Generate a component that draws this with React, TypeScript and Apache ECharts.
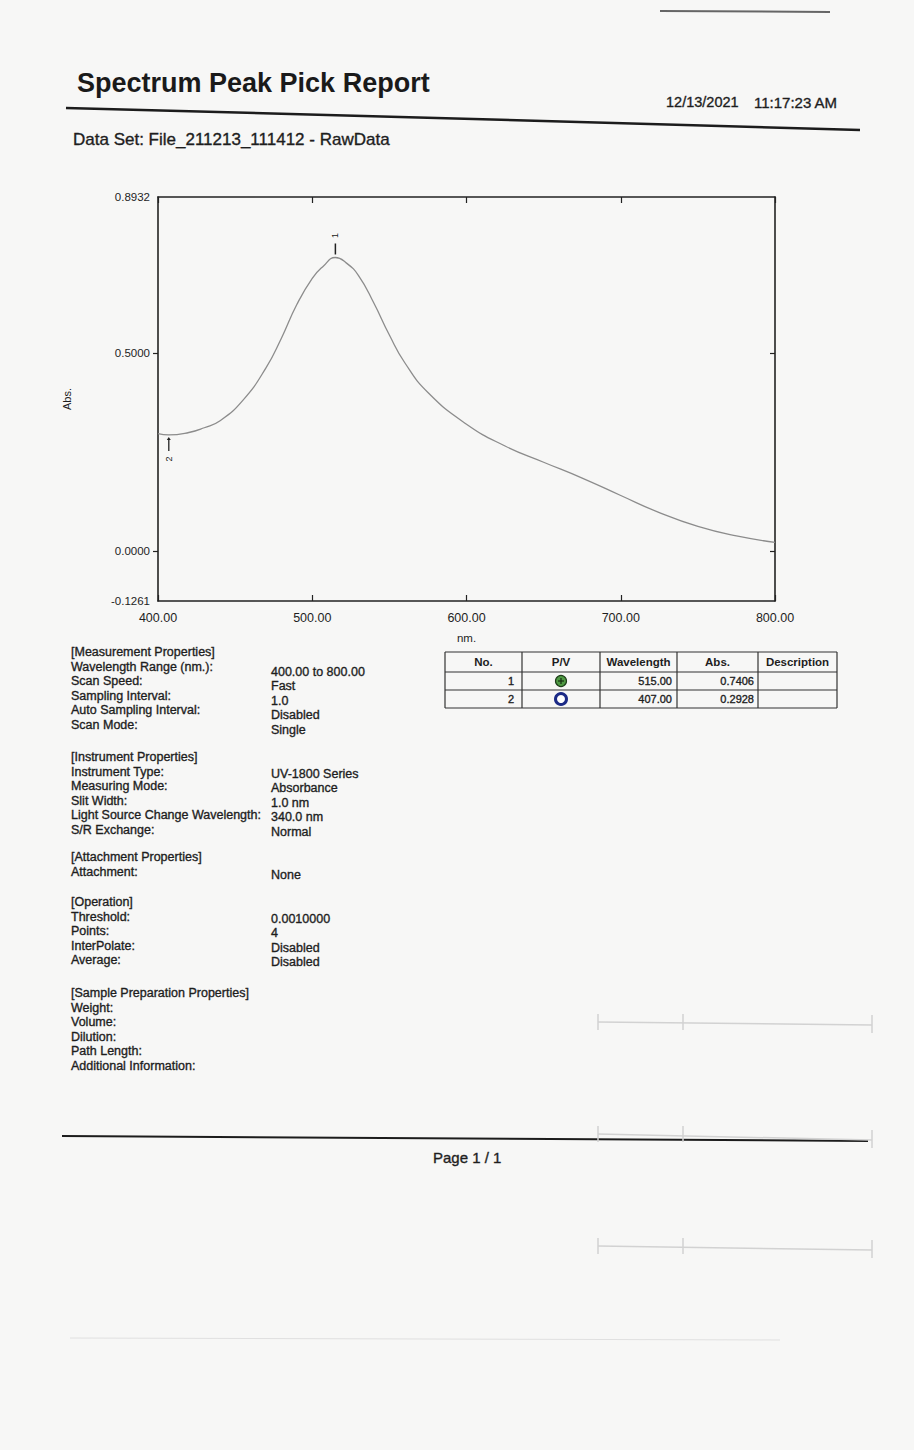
import React, { useEffect, useRef } from "react";
import * as echarts from "echarts";

// ---------- data ----------
const wavelengths = [400, 407, 420, 430, 440, 455, 470, 480, 490, 500, 507, 515, 522, 530, 540, 550, 560, 575, 600, 625, 650, 675, 700, 725, 750, 775, 800];
const absorbance = [0.296, 0.2928, 0.299, 0.311, 0.328, 0.38, 0.462, 0.537, 0.622, 0.688, 0.718, 0.7406, 0.727, 0.695, 0.625, 0.545, 0.475, 0.4, 0.32, 0.265, 0.224, 0.184, 0.14, 0.097, 0.062, 0.038, 0.022];

const xTicks = [400, 500, 600, 700, 800];
const yLabelValues = [-0.1261, 0, 0.5, 0.8932];
const yTickValues = [0, 0.5];

const peakNo = [1, 2];
const peakType = ["P", "V"];
const peakWavelength = [515.0, 407.0];
const peakAbs = [0.7406, 0.2928];

const measurementLabels = ["Wavelength Range (nm.):", "Scan Speed:", "Sampling Interval:", "Auto Sampling Interval:", "Scan Mode:"];
const measurementValues = ["400.00 to 800.00", "Fast", "1.0", "Disabled", "Single"];
const instrumentLabels = ["Instrument Type:", "Measuring Mode:", "Slit Width:", "Light Source Change Wavelength:", "S/R Exchange:"];
const instrumentValues = ["UV-1800 Series", "Absorbance", "1.0 nm", "340.0 nm", "Normal"];
const attachmentLabels = ["Attachment:"];
const attachmentValues = ["None"];
const operationLabels = ["Threshold:", "Points:", "InterPolate:", "Average:"];
const operationValues = ["0.0010000", "4", "Disabled", "Disabled"];
const sampleLabels = ["Weight:", "Volume:", "Dilution:", "Path Length:", "Additional Information:"];

const tableHeaders = ["No.", "P/V", "Wavelength", "Abs.", "Description"];

const FONT = "'Liberation Sans', Arial, sans-serif";
const INK = "#1e1e1e";

function txt(x: number, y: number, text: string, size: number, extra: any = {}) {
  return {
    type: "text",
    x,
    y,
    silent: true,
    style: {
      text,
      fontSize: size,
      fontFamily: FONT,
      fill: INK,
      textVerticalAlign: "middle",
      ...extra,
    },
  };
}

const bodyStyle = { stroke: "#1e1e1e", lineWidth: 0.35 };

function section(header: string, labels: string[], values: string[], y0: number, valueOffset: number) {
  const els: any[] = [];
  const step = 14.5;
  els.push(txt(71, y0, header, 12.5, bodyStyle));
  labels.forEach((l, i) => {
    els.push(txt(71, y0 + step * (i + 1), l, 12.5, bodyStyle));
  });
  values.forEach((v, i) => {
    els.push(txt(271, y0 + step * (i + 1) + valueOffset, v, 12.5, bodyStyle));
  });
  return els;
}

function buildTable() {
  const els: any[] = [];
  const colX = [445, 522, 600, 677, 758, 837];
  const rowY = [652, 672, 690, 708];
  const stroke = { stroke: "#333", lineWidth: 1.2 };
  rowY.forEach((y) => {
    els.push({ type: "line", silent: true, shape: { x1: colX[0], y1: y, x2: colX[5], y2: y }, style: stroke });
  });
  colX.forEach((x) => {
    els.push({ type: "line", silent: true, shape: { x1: x, y1: rowY[0], x2: x, y2: rowY[3] }, style: stroke });
  });
  tableHeaders.forEach((h, i) => {
    els.push(txt((colX[i] + colX[i + 1]) / 2, (rowY[0] + rowY[1]) / 2, h, 11.5, { fontWeight: "bold", textAlign: "center" }));
  });
  peakNo.forEach((n, r) => {
    const cy = (rowY[r + 1] + rowY[r + 2]) / 2;
    els.push(txt(colX[1] - 8, cy, String(n), 11, { textAlign: "right", ...bodyStyle }));
    const cx = (colX[1] + colX[2]) / 2;
    if (peakType[r] === "P") {
      els.push({ type: "circle", silent: true, shape: { cx, cy, r: 5.5 }, style: { fill: "#4f9a43", stroke: "#1f3f1a", lineWidth: 1.2 } });
      els.push({ type: "line", silent: true, shape: { x1: cx - 3, y1: cy, x2: cx + 3, y2: cy }, style: { stroke: "#163012", lineWidth: 1.2 } });
      els.push({ type: "line", silent: true, shape: { x1: cx, y1: cy - 3, x2: cx, y2: cy + 3 }, style: { stroke: "#163012", lineWidth: 1.2 } });
    } else {
      els.push({ type: "circle", silent: true, shape: { cx, cy, r: 5.5 }, style: { fill: "#ffffff", stroke: "#1b2a86", lineWidth: 3 } });
    }
    els.push(txt(colX[3] - 5, cy, peakWavelength[r].toFixed(2), 11, { textAlign: "right", ...bodyStyle }));
    els.push(txt(colX[4] - 4, cy, peakAbs[r].toFixed(4), 11, { textAlign: "right", ...bodyStyle }));
  });
  return els;
}

function buildGhosts() {
  const faint = { stroke: "#d2d2d2", lineWidth: 1.5 };
  const els: any[] = [];
  [[1022, 1025], [1134, 1140], [1246, 1250]].forEach(([a, b]) => {
    els.push({ type: "line", silent: true, shape: { x1: 598, y1: a, x2: 872, y2: b }, style: faint });
    els.push({ type: "line", silent: true, shape: { x1: 872, y1: b - 10, x2: 872, y2: b + 8 }, style: faint });
    els.push({ type: "line", silent: true, shape: { x1: 598, y1: a - 8, x2: 598, y2: a + 8 }, style: faint });
    els.push({ type: "line", silent: true, shape: { x1: 683, y1: a - 8, x2: 683, y2: a + 8 }, style: faint });
  });
  els.push({ type: "line", silent: true, shape: { x1: 70, y1: 1338, x2: 780, y2: 1340 }, style: { stroke: "#e0e0e0", lineWidth: 1 } });
  els.push({ type: "line", silent: true, shape: { x1: 660, y1: 11, x2: 830, y2: 12 }, style: { stroke: "#666", lineWidth: 2 } });
  return els;
}

export default function App() {
  const ref = useRef<HTMLDivElement>(null);

  useEffect(() => {
    if (!ref.current) return;
    const chart = echarts.init(ref.current, null, { renderer: "svg" });

    const lineData = wavelengths.map((w, i) => [w, absorbance[i]]);
    const peakData = peakWavelength.map((w, i) => [w, peakAbs[i], peakType[i] === "P" ? 1 : -1, peakNo[i]]);

    const axisLine = { show: true, onZero: false, lineStyle: { color: "#222", width: 1.6 } };

    const graphic: any[] = [
      txt(77, 83, "Spectrum Peak Pick Report", 27, { fontWeight: "bold", fill: "#1a1a1a" }),
      txt(666, 102, "12/13/2021", 14.5, bodyStyle),
      txt(754, 102, "11:17:23 AM", 15, bodyStyle),
      { type: "polyline", silent: true, shape: { points: [[66, 108], [400, 117], [860, 130]] }, style: { stroke: "#1c1c1c", lineWidth: 2.5, fill: null } },
      txt(73, 139, "Data Set: File_211213_111412 - RawData", 17, bodyStyle),
      ...section("[Measurement Properties]", measurementLabels, measurementValues, 652, 5),
      ...section("[Instrument Properties]", instrumentLabels, instrumentValues, 757, 2),
      ...section("[Attachment Properties]", attachmentLabels, attachmentValues, 857, 3),
      ...section("[Operation]", operationLabels, operationValues, 902, 2),
      ...section("[Sample Preparation Properties]", sampleLabels, [], 993, 0),
      ...buildTable(),
      { type: "polyline", silent: true, shape: { points: [[62, 1136], [868, 1141]] }, style: { stroke: "#1c1c1c", lineWidth: 2, fill: null } },
      txt(433, 1157, "Page 1 / 1", 15, bodyStyle),
      ...buildGhosts(),
    ];

    chart.setOption({
      animation: false,
      backgroundColor: "#f7f7f6",
      textStyle: { fontFamily: FONT },
      grid: { left: 158, top: 197, width: 617, height: 404 },
      xAxis: [
        {
          type: "value",
          position: "bottom",
          min: 400,
          max: 800,
          interval: 100,
          axisLine,
          axisTick: { show: true, inside: true, length: 6, lineStyle: { color: "#222", width: 1.2 } },
          axisLabel: { color: INK, fontSize: 12.5, margin: 10, formatter: (v: number) => v.toFixed(2), customValues: xTicks },
          splitLine: { show: false },
          name: "nm.",
          nameLocation: "middle",
          nameGap: 31,
          nameTextStyle: { color: INK, fontSize: 11.5 },
        },
        {
          type: "value",
          position: "top",
          min: 400,
          max: 800,
          interval: 100,
          axisLine,
          axisTick: { show: true, inside: true, length: 6, lineStyle: { color: "#222", width: 1.2 } },
          axisLabel: { show: false },
          splitLine: { show: false },
        },
      ],
      yAxis: [
        {
          type: "value",
          position: "left",
          min: -0.1261,
          max: 0.8932,
          axisLine,
          axisTick: { show: true, inside: false, length: 5, customValues: yTickValues, lineStyle: { color: "#222", width: 1.2 } },
          axisLabel: { color: INK, fontSize: 11.5, margin: 8, customValues: yLabelValues, formatter: (v: number) => v.toFixed(4) },
          splitLine: { show: false },
          name: "Abs.",
          nameLocation: "middle",
          nameRotate: 90,
          nameGap: 86,
          nameTextStyle: { color: INK, fontSize: 11 },
        },
        {
          type: "value",
          position: "right",
          min: -0.1261,
          max: 0.8932,
          axisLine,
          axisTick: { show: true, inside: true, length: 5, customValues: yTickValues, lineStyle: { color: "#222", width: 1.2 } },
          axisLabel: { show: false },
          splitLine: { show: false },
        },
      ],
      series: [
        {
          type: "line",
          xAxisIndex: 0,
          yAxisIndex: 0,
          data: lineData,
          smooth: 0.5,
          showSymbol: false,
          lineStyle: { color: "#8c8c8c", width: 1.3 },
          silent: true,
        },
        {
          type: "custom",
          xAxisIndex: 0,
          yAxisIndex: 0,
          data: peakData,
          silent: true,
          renderItem: (params: any, api: any) => {
            const p = api.coord([api.value(0), api.value(1)]);
            const dir = api.value(2);
            const label = String(api.value(3));
            const x = p[0];
            const y = p[1];
            if (dir > 0) {
              return {
                type: "group",
                children: [
                  { type: "line", shape: { x1: x, y1: y - 3, x2: x, y2: y - 14 }, style: { stroke: "#222", lineWidth: 1.5 } },
                  { type: "text", x: x, y: y - 22, rotation: Math.PI / 2, style: { text: label, fontSize: 9, fontFamily: FONT, fill: "#222", textAlign: "center", textVerticalAlign: "middle" } },
                ],
              };
            }
            return {
              type: "group",
              children: [
                { type: "line", shape: { x1: x, y1: y + 4, x2: x, y2: y + 16 }, style: { stroke: "#222", lineWidth: 1.3 } },
                { type: "polygon", shape: { points: [[x - 2, y + 5], [x + 2, y + 5], [x, y + 2]] }, style: { fill: "#222" } },
                { type: "text", x: x, y: y + 24, rotation: Math.PI / 2, style: { text: label, fontSize: 9, fontFamily: FONT, fill: "#222", textAlign: "center", textVerticalAlign: "middle" } },
              ],
            };
          },
        },
      ],
      graphic,
    });

    return () => chart.dispose();
  }, []);

  return <div ref={ref} style={{ position: "absolute", left: 0, top: 0, width: 914, height: 1450 }} />;
}
